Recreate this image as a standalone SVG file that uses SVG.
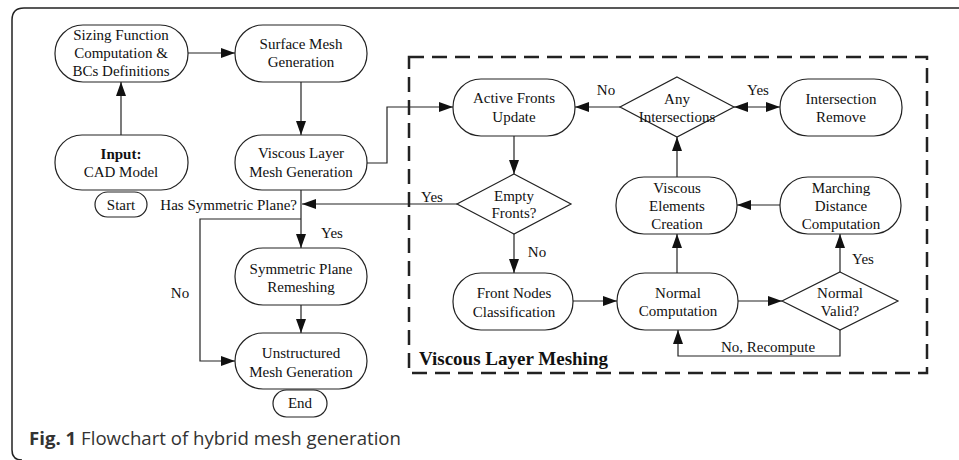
<svg xmlns="http://www.w3.org/2000/svg" width="959" height="460" viewBox="0 0 959 460">
<style>
.n{fill:#fff;stroke:#222;stroke-width:1.2}
.t{font-family:"Liberation Serif","Times New Roman",serif;font-size:15px;fill:#111;text-anchor:middle}
.c{fill:none;stroke:#222;stroke-width:1.2}
.frame{fill:none;stroke:#222;stroke-width:1.5}
.cap{font-family:"Open Sans","Liberation Sans",Arial,sans-serif;font-size:18px;fill:#333}
</style>
<defs>
<marker id="a" markerUnits="userSpaceOnUse" markerWidth="14" markerHeight="10" refX="14" refY="5" orient="auto">
<path d="M0,0 L14,5 L0,10 z" fill="#111"/>
</marker>
<marker id="s" markerUnits="userSpaceOnUse" markerWidth="14" markerHeight="10" refX="0" refY="5" orient="auto">
<path d="M14,0 L0,5 L14,10 z" fill="#111"/>
</marker>
</defs>
<rect width="959" height="460" fill="#fff"/>
<path class="frame" d="M22,460 Q12,460 12,450 L12,20 Q12,8 24,8 L960,8"/>
<rect x="409" y="57" width="518" height="316" fill="none" stroke="#222" stroke-width="2.5" stroke-dasharray="15 8"/>
<text x="419" y="365" font-family="'Liberation Serif','Times New Roman',serif" font-size="19" font-weight="bold" fill="#111">Viscous Layer Meshing</text>

<g id="connectors">
<path class="c" d="M188,53 L235,53" marker-end="url(#a)"/>
<path class="c" d="M121,135 L121,82" marker-end="url(#a)"/>
<path class="c" d="M301,82 L301,135" marker-end="url(#a)"/>
<path class="c" d="M301,190 L301,248" marker-end="url(#a)"/>
<path class="c" d="M301,219 L200,219 L200,361 L235,361" marker-end="url(#a)"/>
<path class="c" d="M301,305 L301,333" marker-end="url(#a)"/>
<path class="c" d="M457,204 L302,204" marker-end="url(#a)"/>
<path class="c" d="M367,163 L387,163 L387,107 L453,107" marker-end="url(#a)"/>
<path class="c" d="M514,136 L514,174" marker-end="url(#a)"/>
<path class="c" d="M514,234 L514,273" marker-end="url(#a)"/>
<path class="c" d="M620,107 L575,107" marker-end="url(#a)"/>
<path class="c" d="M734,107 L780,107" marker-start="url(#s)" marker-end="url(#a)"/>
<path class="c" d="M677,177 L677,137" marker-end="url(#a)"/>
<path class="c" d="M780,205 L737,205" marker-end="url(#a)"/>
<path class="c" d="M573,301 L617,301" marker-end="url(#a)"/>
<path class="c" d="M677,273 L677,234" marker-end="url(#a)"/>
<path class="c" d="M738,301 L782,301" marker-end="url(#a)"/>
<path class="c" d="M840,272 L840,234" marker-end="url(#a)"/>
<path class="c" d="M840,330 L840,356 L678,356 L678,330" marker-end="url(#a)"/>
<text class="t" x="180" y="298">No</text>
<text class="t" x="332" y="238">Yes</text>
<text class="t" x="432" y="202">Yes</text>
<text class="t" x="606" y="95">No</text>
<text class="t" x="758" y="95">Yes</text>
<text class="t" x="537" y="257">No</text>
<text class="t" x="863" y="264">Yes</text>
<text class="t" x="768" y="352">No, Recompute</text>
</g>

<g id="sizing"><rect class="n" x="55" y="25" width="133" height="57" rx="28"/>
<text class="t" x="121" y="40">Sizing Function</text><text class="t" x="121" y="58">Computation &amp;</text><text class="t" x="121" y="76">BCs Definitions</text></g>
<g id="surface"><rect class="n" x="235" y="25" width="132" height="57" rx="28"/>
<text class="t" x="301" y="49">Surface Mesh</text><text class="t" x="301" y="67">Generation</text></g>
<g id="input"><rect class="n" x="55" y="135" width="133" height="55" rx="27"/>
<text class="t" x="121" y="159" font-weight="bold">Input:</text><text class="t" x="121" y="177">CAD Model</text></g>
<g id="viscous"><rect class="n" x="235" y="135" width="132" height="55" rx="27"/>
<text class="t" x="301" y="158">Viscous Layer</text><text class="t" x="301" y="177">Mesh Generation</text></g>
<g id="start"><rect class="n" x="95" y="192" width="52" height="25" rx="12.5"/>
<text class="t" x="121" y="210">Start</text></g>
<g id="hassym"><text class="t" x="297" y="210" style="text-anchor:end">Has Symmetric Plane?</text></g>
<g id="symplane"><rect class="n" x="235" y="248" width="132" height="57" rx="28"/>
<text class="t" x="301" y="274">Symmetric Plane</text><text class="t" x="301" y="292">Remeshing</text></g>
<g id="unstructured"><rect class="n" x="235" y="333" width="132" height="56" rx="28"/>
<text class="t" x="301" y="358">Unstructured</text><text class="t" x="301" y="377">Mesh Generation</text></g>
<g id="end"><rect class="n" x="273" y="390" width="54" height="27" rx="13.5"/>
<text class="t" x="300" y="408">End</text></g>

<g id="active"><rect class="n" x="453" y="79" width="122" height="57" rx="28"/>
<text class="t" x="514" y="103">Active Fronts</text><text class="t" x="514" y="122">Update</text></g>
<g id="empty"><polygon class="n" points="514,174 571,204 514,234 457,204"/>
<text class="t" x="514" y="201">Empty</text><text class="t" x="514" y="218">Fronts?</text></g>
<g id="anyint"><polygon class="n" points="677,77 734,107 677,137 620,107"/>
<text class="t" x="677" y="104">Any</text><text class="t" x="677" y="122">Intersections</text></g>
<g id="intremove"><rect class="n" x="780" y="79" width="122" height="57" rx="28"/>
<text class="t" x="841" y="104">Intersection</text><text class="t" x="841" y="122">Remove</text></g>
<g id="elements"><rect class="n" x="616" y="177" width="121" height="57" rx="28"/>
<text class="t" x="677" y="193">Viscous</text><text class="t" x="677" y="211">Elements</text><text class="t" x="677" y="229">Creation</text></g>
<g id="marching"><rect class="n" x="780" y="177" width="121" height="57" rx="28"/>
<text class="t" x="841" y="193">Marching</text><text class="t" x="841" y="211">Distance</text><text class="t" x="841" y="229">Computation</text></g>
<g id="frontnodes"><rect class="n" x="453" y="273" width="120" height="57" rx="28"/>
<text class="t" x="514" y="298">Front Nodes</text><text class="t" x="514" y="317">Classification</text></g>
<g id="normal"><rect class="n" x="617" y="273" width="121" height="57" rx="28"/>
<text class="t" x="678" y="298">Normal</text><text class="t" x="678" y="316">Computation</text></g>
<g id="valid"><polygon class="n" points="840,272 898,301 840,330 782,301"/>
<text class="t" x="840" y="298">Normal</text><text class="t" x="840" y="316">Valid?</text></g>

<text class="cap" x="29" y="445" textLength="372" lengthAdjust="spacingAndGlyphs"><tspan font-weight="bold">Fig. 1</tspan> Flowchart of hybrid mesh generation</text>
</svg>
